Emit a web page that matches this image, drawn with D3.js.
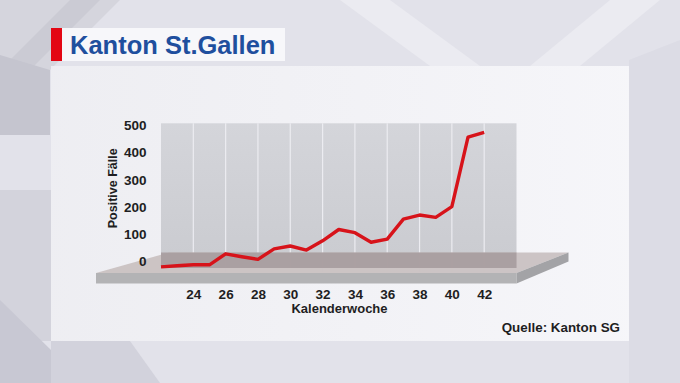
<!DOCTYPE html>
<html>
<head>
<meta charset="utf-8">
<script src="https://cdn.jsdelivr.net/npm/d3@7"></script>
<style>
  body { margin: 0; background: #e4e4ec; }
  svg text { font-family: "Liberation Sans", Arial, Helvetica, sans-serif; font-weight: bold; }
</style>
</head>
<body>
<svg id="chart" width="680" height="383"></svg>
<script>
// data
var weeks = [22, 23, 24, 25, 26, 27, 28, 29, 30, 31, 32, 33, 34, 35, 36, 37, 38, 39, 40, 41, 42];
var cases = [4, 8, 11, 11, 49, 39, 30, 66, 76, 62, 94, 133, 122, 89, 100, 169, 183, 175, 212, 452, 469];
var xTicks = [24, 26, 28, 30, 32, 34, 36, 38, 40, 42];
var yTicks = [0, 100, 200, 300, 400, 500];
var title = "Kanton St.Gallen";
var yTitle = "Positive Fälle";
var xTitle = "Kalenderwoche";
var source = "Quelle: Kanton SG";

var svg = d3.select("svg#chart");
var defs = svg.append("defs");

// background shapes
var bg = svg.append("g");
bg.append("rect").attr("width", 680).attr("height", 383).attr("fill", "#e2e2ea");
var shapes = [
	{ p: [[0, 0], [120, 0], [0, 120]], c: "#d5d5dd" },
	{ p: [[70, 0], [100, 0], [0, 100], [0, 70]], c: "#cbcbd4" },
	{ p: [[0, 55], [50, 70], [50, 135], [0, 135]], c: "#c5c5cf" },
	{ p: [[0, 190], [51, 190], [51, 341], [0, 341]], c: "#d3d3dc" },
	{ p: [[0, 300], [51, 350], [51, 383], [0, 383]], c: "#c8c8d3" },
	{ p: [[51, 341], [130, 341], [160, 383], [51, 383]], c: "#d2d2dc" },
	{ p: [[340, 0], [390, 0], [480, 66], [430, 66]], c: "#ebebf1" },
	{ p: [[610, 0], [660, 0], [580, 66], [530, 66]], c: "#ebebf1" },
	{ p: [[629, 60], [680, 40], [680, 383], [629, 383]], c: "#dcdce5" }
];
bg.selectAll("polygon").data(shapes).enter().append("polygon")
	.attr("points", function (d) { return d.p.join(" "); })
	.attr("fill", function (d) { return d.c; });

// white panel, a bit greyer on the left
var panelGrad = defs.append("linearGradient")
	.attr("id", "panel").attr("x1", 0).attr("y1", 0).attr("x2", 1).attr("y2", 0);
panelGrad.append("stop").attr("offset", "0%").attr("stop-color", "#efeff3");
panelGrad.append("stop").attr("offset", "100%").attr("stop-color", "#f8f8fb");
svg.append("rect")
	.attr("x", 51).attr("y", 66).attr("width", 578).attr("height", 275)
	.attr("fill", "url(#panel)").attr("opacity", 0.9);

// title
svg.append("rect").attr("x", 62).attr("y", 28).attr("width", 223).attr("height", 33)
	.attr("fill", "#fafafc").attr("opacity", 0.9);
svg.append("rect").attr("x", 51).attr("y", 28).attr("width", 11).attr("height", 33)
	.attr("fill", "#e30613");
svg.append("text")
	.attr("x", 70).attr("y", 54)
	.attr("fill", "#1f4f9e")
	.style("font-size", "25.5px")
	.text(title);

// scales
var x = d3.scaleLinear().domain([22, 44]).range([161, 516.5]);
var y = d3.scaleLinear().domain([0, 500]).range([268, 123.3]);      // line / wall plane
var yAxis = d3.scaleLinear().domain([0, 500]).range([261.3, 125.3]); // label plane

var wallL = x(22), wallR = x(44), wallT = y(500), wallB = y(0);
var floorBack = wallB - 15.5, floorFront = wallB + 5, depth = 52, frontLeft = 96;

var wallGrad = defs.append("linearGradient")
	.attr("id", "wall").attr("x1", 0).attr("y1", 0).attr("x2", 0).attr("y2", 1);
wallGrad.append("stop").attr("offset", "0%").attr("stop-color", "#d4d5da");
wallGrad.append("stop").attr("offset", "100%").attr("stop-color", "#cacbd0");

// back wall
svg.append("rect")
	.attr("x", wallL).attr("y", wallT)
	.attr("width", wallR - wallL).attr("height", wallB - wallT)
	.attr("fill", "url(#wall)");

// vertical grid lines
svg.append("g").selectAll("line").data(xTicks).enter().append("line")
	.attr("x1", function (d) { return x(d); })
	.attr("x2", function (d) { return x(d); })
	.attr("y1", wallT).attr("y2", floorFront - 1)
	.attr("stroke", "#ececf1").attr("stroke-width", 1.2);

// floor top
svg.append("polygon")
	.attr("points", [[frontLeft, floorFront], [wallL + 8, floorBack], [wallR + depth, floorBack], [wallR, floorFront]].join(" "))
	.attr("fill", "#c8bfbf").attr("opacity", 0.9);
// floor part over the wall, darker
svg.append("rect")
	.attr("x", wallL).attr("y", floorBack)
	.attr("width", wallR - wallL).attr("height", wallB - floorBack)
	.attr("fill", "#a2979a").attr("opacity", 0.8);
// front face
svg.append("rect")
	.attr("x", frontLeft).attr("y", floorFront)
	.attr("width", wallR - frontLeft).attr("height", 10.5)
	.attr("fill", "#b3b3b5");
// side face
svg.append("polygon")
	.attr("points", [[wallR, floorFront], [wallR + depth, floorBack], [wallR + depth, floorBack + 9], [wallR, floorFront + 10.5]].join(" "))
	.attr("fill", "#a3a3a6");

// line
var line = d3.line()
	.x(function (d, i) { return x(weeks[i]); })
	.y(function (d) { return y(d); });
svg.append("path")
	.datum(cases)
	.attr("d", line)
	.attr("fill", "none")
	.attr("stroke", "#d7131a")
	.attr("stroke-width", 3.4)
	.attr("stroke-linejoin", "round");

// axes
var gy = svg.append("g")
	.attr("transform", "translate(146.5,0)")
	.call(d3.axisLeft(yAxis).tickValues(yTicks).tickSize(0).tickPadding(0));
gy.select(".domain").remove();
gy.selectAll("text").style("font-size", "13.5px").attr("fill", "#1e1e22");

var gx = svg.append("g")
	.attr("transform", "translate(0,289)")
	.call(d3.axisBottom(x).tickValues(xTicks).tickSize(0).tickPadding(0));
gx.select(".domain").remove();
gx.selectAll("text").style("font-size", "13.5px").attr("fill", "#1e1e22");

svg.append("text")
	.attr("transform", "translate(117,188.3) rotate(-90)")
	.attr("text-anchor", "middle")
	.attr("fill", "#1e1e22")
	.style("font-size", "12.5px")
	.text(yTitle);

svg.append("text")
	.attr("x", 339.5).attr("y", 313)
	.attr("text-anchor", "middle")
	.attr("fill", "#1e1e22")
	.style("font-size", "13px")
	.text(xTitle);

svg.append("text")
	.attr("x", 620).attr("y", 332)
	.attr("text-anchor", "end")
	.attr("fill", "#1e1e22")
	.style("font-size", "13.4px")
	.text(source);
</script>
</body>
</html>
